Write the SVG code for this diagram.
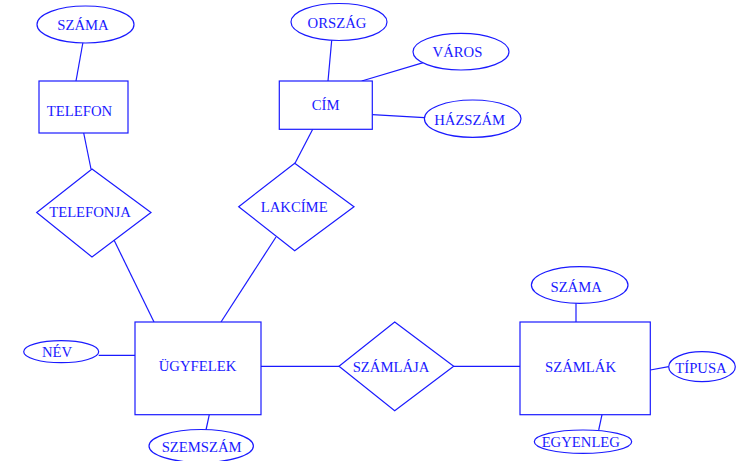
<svg xmlns="http://www.w3.org/2000/svg" width="736" height="461" viewBox="0 0 736 461">
<style>
.s{fill:#fff;stroke:#1a1aff;stroke-width:1.2}
.c line{stroke:#1a1aff;stroke-width:1.2}
text{font-family:"Liberation Serif","Times New Roman",serif;font-size:14.7px;fill:#1a1aff;text-anchor:middle}
</style>
<rect width="736" height="461" fill="#fff"/>
<g class="c" id="connectors">
<line x1="83" y1="42" x2="76" y2="81"/>
<line x1="83.7" y1="133" x2="91" y2="169"/>
<line x1="114" y1="240" x2="154" y2="322"/>
<line x1="331.7" y1="40.3" x2="328" y2="81"/>
<line x1="423.3" y1="62.7" x2="361.7" y2="81"/>
<line x1="372.3" y1="114.7" x2="424.3" y2="117.7"/>
<line x1="312.7" y1="129.3" x2="295" y2="163.3"/>
<line x1="276" y1="237" x2="221" y2="322"/>
<line x1="98.7" y1="355.3" x2="135" y2="355.3"/>
<line x1="209.3" y1="414.7" x2="206" y2="430"/>
<line x1="261" y1="366.3" x2="339" y2="366.3"/>
<line x1="453.7" y1="366.3" x2="520" y2="366.3"/>
<line x1="576" y1="303.3" x2="576" y2="322"/>
<line x1="650.3" y1="370" x2="668.7" y2="366.7"/>
<line x1="602" y1="414.7" x2="598.7" y2="430"/>
</g>
<g id="szama1"><ellipse class="s" cx="85.5" cy="24.5" rx="48.5" ry="18.5"/><text x="83" y="29.5">SZÁMA</text></g>
<g id="telefon"><rect class="s" x="39" y="81" width="89" height="52"/><text x="79.5" y="116">TELEFON</text></g>
<g id="telefonja"><polygon class="s" points="92,169 151,212.5 92,257 36.7,212.5"/><text x="90" y="217">TELEFONJA</text></g>
<g id="orszag"><ellipse class="s" cx="339" cy="22" rx="48" ry="18.5"/><text x="337" y="28.3">ORSZÁG</text></g>
<g id="varos"><ellipse class="s" cx="461" cy="51.7" rx="48" ry="18.3"/><text x="457.5" y="57.3">VÁROS</text></g>
<g id="cim"><rect class="s" x="279.3" y="81" width="93" height="48.3"/><text x="325.7" y="110">CÍM</text></g>
<g id="hazszam"><ellipse class="s" cx="472.7" cy="118.7" rx="48.3" ry="18.7"/><text x="469.7" y="125">HÁZSZÁM</text></g>
<g id="lakcime"><polygon class="s" points="294.7,163.3 354,206.7 294.7,250.7 238.7,206.7"/><text x="294.2" y="212">LAKCÍME</text></g>
<g id="nev"><ellipse class="s" cx="61.2" cy="351.7" rx="37.5" ry="11"/><text x="57" y="356.7">NÉV</text></g>
<g id="ugyfelek"><rect class="s" x="135" y="322" width="126" height="92.7"/><text x="197.5" y="370.7">ÜGYFELEK</text></g>
<g id="szemszam"><ellipse class="s" cx="201.2" cy="446" rx="52.2" ry="16.5"/><text x="201.7" y="452.3">SZEMSZÁM</text></g>
<g id="szamlaja"><polygon class="s" points="394.7,322 453.7,366.3 394.7,410.7 339,366.3"/><text x="391" y="371.7">SZÁMLÁJA</text></g>
<g id="szamlak"><rect class="s" x="520" y="322" width="130.3" height="92.7"/><text x="580.5" y="372">SZÁMLÁK</text></g>
<g id="szama2"><ellipse class="s" cx="579.7" cy="285" rx="48.3" ry="18.3"/><text x="576.2" y="292.3">SZÁMA</text></g>
<g id="tipusa"><ellipse class="s" cx="702" cy="366.7" rx="33.3" ry="15"/><text x="701" y="373.3">TÍPUSA</text></g>
<g id="egyenleg"><ellipse class="s" cx="583" cy="441.7" rx="48.7" ry="11.7"/><text x="580.8" y="446.7">EGYENLEG</text></g>
</svg>
